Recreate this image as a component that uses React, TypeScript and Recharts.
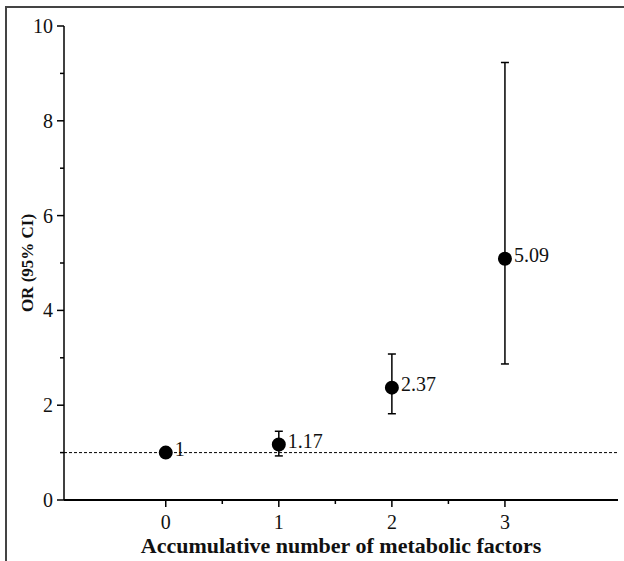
import React from "react";
import {
  ComposedChart,
  Scatter,
  ErrorBar,
  XAxis,
  YAxis,
  ZAxis,
  ReferenceLine,
  LabelList,
} from "recharts";

const factors = [0, 1, 2, 3];
const orValues = [1, 1.17, 2.37, 5.09];
const ciLow = [1, 0.93, 1.82, 2.87];
const ciHigh = [1, 1.45, 3.08, 9.23];
const orLabels = ["1", "1.17", "2.37", "5.09"];

const xTicks = [0, 0.5, 1, 1.5, 2, 2.5, 3];
const yTicks = [0, 1, 2, 3, 4, 5, 6, 7, 8, 9, 10];

const data = factors.map((f, i) => ({
  x: f,
  or: orValues[i],
  err: [orValues[i] - ciLow[i], ciHigh[i] - orValues[i]],
  label: orLabels[i],
}));

const FONT = "'Liberation Serif', 'Times New Roman', serif";

const XTick = (props: any) => {
  const { x, y, payload } = props;
  const major = Number.isInteger(payload.value);
  if (!major) {
    return <line x1={x} x2={x} y1={y} y2={y + 4} stroke="#000" strokeWidth={1.5} />;
  }
  return (
    <g>
      <line x1={x} x2={x} y1={y} y2={y + 7} stroke="#000" strokeWidth={1.5} />
      <text x={x} y={y + 29} textAnchor="middle" fontSize={20} style={{ fontFamily: FONT }} fill="#111">
        {payload.value}
      </text>
    </g>
  );
};

const YTick = (props: any) => {
  const { x, y, payload } = props;
  const major = payload.value % 2 === 0;
  if (!major) {
    return <line x1={x - 4} x2={x} y1={y} y2={y} stroke="#000" strokeWidth={1.5} />;
  }
  return (
    <g>
      <line x1={x - 7} x2={x} y1={y} y2={y} stroke="#000" strokeWidth={1.5} />
      <text x={x - 11} y={y + 7} textAnchor="end" fontSize={20} style={{ fontFamily: FONT }} fill="#111">
        {payload.value}
      </text>
    </g>
  );
};

export default function App() {
  return (
    <div style={{ position: "absolute", left: 0, top: 0, width: 624, height: 561, background: "#fff", fontFamily: FONT }}>
      <div
        style={{
          position: "absolute",
          left: 5,
          top: 6,
          width: 619,
          height: 555,
          borderTop: "2px solid #444",
          borderLeft: "2px solid #444",
        }}
      />
      <ComposedChart
        width={624}
        height={561}
        data={data}
        margin={{ top: 26, right: 6, bottom: 31, left: 14 }}
        style={{ position: "absolute", left: 0, top: 0, fontFamily: FONT }}
      >
        <XAxis
          dataKey="x"
          type="number"
          domain={[-0.9, 4]}
          ticks={xTicks}
          allowDataOverflow
          tickLine={false}
          tickSize={0}
          tickMargin={0}
          tick={XTick}
          height={30}
          axisLine={{ stroke: "#000", strokeWidth: 2 }}
          label={{
            value: "Accumulative number of metabolic factors",
            position: "bottom",
            offset: 7,
            fontSize: 22,
            fontWeight: "bold",
            fill: "#111",
            style: { fontFamily: FONT },
          }}
        />
        <YAxis
          type="number"
          domain={[0, 10]}
          ticks={yTicks}
          tickLine={false}
          tickSize={0}
          tickMargin={0}
          tick={YTick}
          width={50}
          axisLine={{ stroke: "#000", strokeWidth: 1.5 }}
          label={{
            value: "OR (95% CI)",
            angle: -90,
            position: "insideLeft",
            offset: 13,
            fontSize: 17,
            fontWeight: "bold",
            fill: "#111",
            style: { textAnchor: "middle", fontFamily: FONT },
          }}
        />
        <ZAxis range={[154, 154]} />
        <ReferenceLine y={1} stroke="#000" strokeWidth={1} strokeDasharray="3 2" />
        <Scatter dataKey="or" fill="#000" isAnimationActive={false}>
          <ErrorBar dataKey="err" direction="y" width={4} stroke="#000" strokeWidth={1.5} isAnimationActive={false} />
          <LabelList
            dataKey="label"
            position="right"
            offset={2}
            dy={-4}
            fontSize={20}
            fill="#111"
            style={{ fontFamily: FONT }}
          />
        </Scatter>
      </ComposedChart>
    </div>
  );
}
